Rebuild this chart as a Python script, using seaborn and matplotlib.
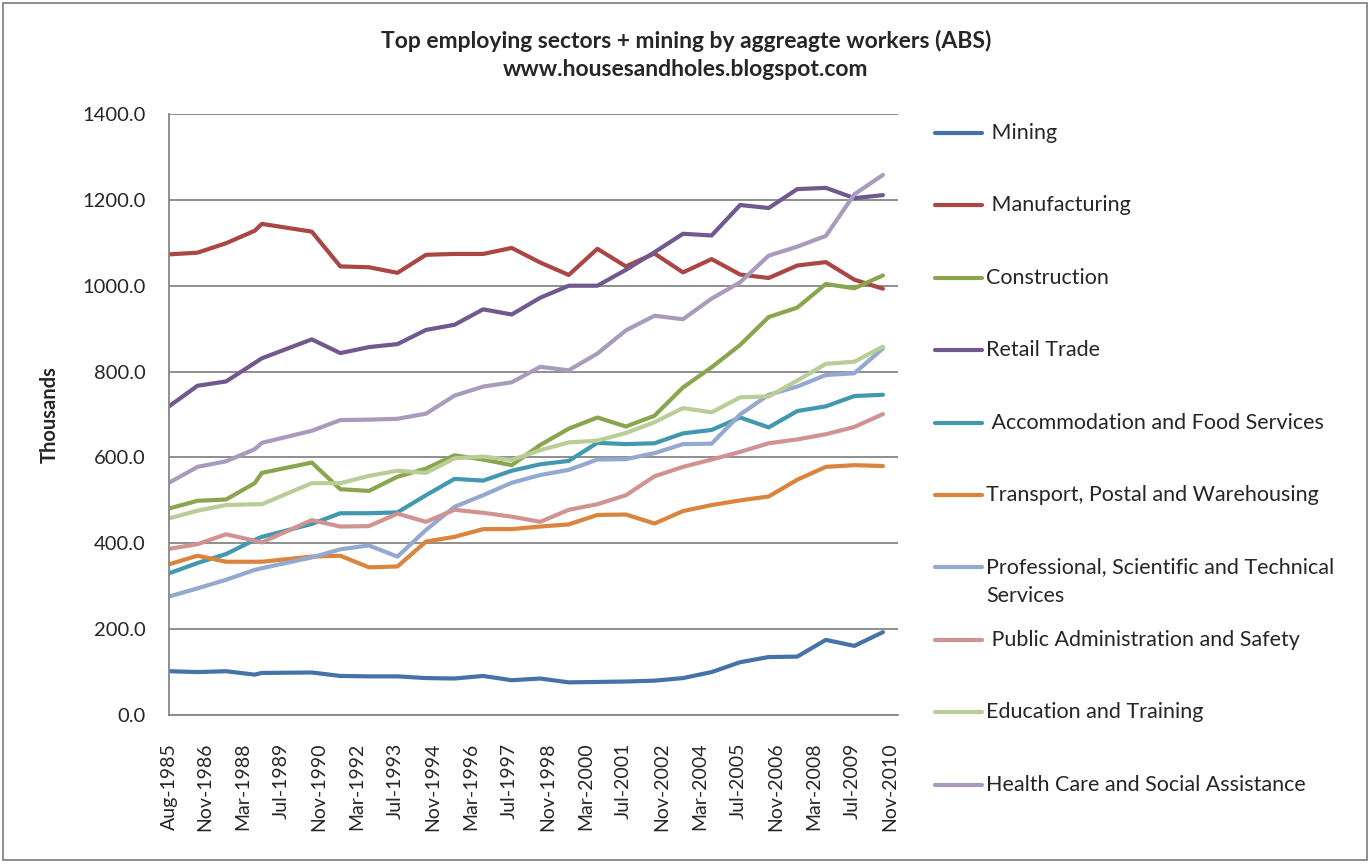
import matplotlib
matplotlib.use("Agg")
import matplotlib.pyplot as plt
from matplotlib.lines import Line2D
from matplotlib.patches import Rectangle
import seaborn as sns
import pandas as pd

# survey dates (one per point)
dates = ["Aug-1985", "Aug-1986", "Aug-1987", "Aug-1988", "Nov-1988",
         "Aug-1990", "Aug-1991", "Aug-1992", "Aug-1993", "Aug-1994",
         "Aug-1995", "Aug-1996", "Aug-1997", "Aug-1998", "Aug-1999",
         "Aug-2000", "Aug-2001", "Aug-2002", "Aug-2003", "Aug-2004",
         "Aug-2005", "Aug-2006", "Aug-2007", "Aug-2008", "Aug-2009",
         "Aug-2010"]

mining = [102, 100, 102, 94, 98, 99, 91, 90, 90, 86, 85, 91, 81, 85, 76,
          77, 78, 80, 86, 100, 123, 135, 136, 175, 161, 193]
manufacturing = [1073, 1077, 1099, 1128, 1144, 1126, 1045, 1043, 1030, 1072,
                 1074, 1074, 1088, 1054, 1025, 1086, 1045, 1075, 1031, 1062,
                 1026, 1018, 1047, 1055, 1014, 993]
construction = [481, 499, 502, 540, 564, 588, 526, 522, 555, 574, 605, 595,
                582, 629, 667, 693, 672, 697, 763, 810, 862, 927, 949, 1004,
                994, 1024]
retail = [719, 767, 777, 820, 831, 875, 843, 857, 864, 897, 909, 945, 933,
          972, 1000, 1000, 1037, 1078, 1121, 1117, 1188, 1181, 1225, 1228,
          1204, 1211]
accommodation = [330, 354, 375, 408, 415, 445, 470, 470, 472, 512, 550, 546,
                 569, 584, 592, 634, 631, 633, 656, 664, 693, 670, 708, 719,
                 743, 746]
transport = [351, 371, 357, 357, 357, 369, 371, 344, 346, 404, 415, 433, 433,
             439, 444, 466, 467, 446, 475, 489, 500, 509, 548, 578, 582, 580]
professional = [276, 295, 315, 338, 342, 367, 386, 395, 369, 431, 485, 512,
                541, 559, 571, 595, 596, 610, 631, 632, 700, 746, 765, 792,
                796, 854]
public_admin = [387, 398, 421, 406, 402, 454, 439, 440, 469, 450, 478, 471,
                462, 450, 478, 491, 512, 556, 578, 595, 613, 633, 642, 654,
                671, 701]
education = [458, 476, 489, 491, 491, 540, 540, 557, 569, 564, 598, 602, 594,
             617, 635, 639, 657, 682, 715, 705, 740, 742, 779, 818, 823, 858]
health = [541, 578, 591, 619, 634, 662, 687, 688, 690, 702, 744, 765, 775,
          811, 803, 842, 896, 930, 922, 970, 1008, 1070, 1091, 1116, 1213, 1258]

sectors = [" Mining", " Manufacturing", "Construction", "Retail Trade",
           " Accommodation and Food Services",
           "Transport, Postal and Warehousing",
           "Professional, Scientific and Technical\nServices",
           " Public Administration and Safety", "Education and Training",
           "Health Care and Social Assistance"]
series = [mining, manufacturing, construction, retail, accommodation,
          transport, professional, public_admin, education, health]
colors = ["#4572A7", "#AA4643", "#89A54E", "#71588F", "#4198AF",
          "#DB843D", "#93A9CF", "#D19392", "#B9CD96", "#A99BBD"]

tick_labels = ["Aug-1985", "Nov-1986", "Mar-1988", "Jul-1989", "Nov-1990",
               "Mar-1992", "Jul-1993", "Nov-1994", "Mar-1996", "Jul-1997",
               "Nov-1998", "Mar-2000", "Jul-2001", "Nov-2002", "Mar-2004",
               "Jul-2005", "Nov-2006", "Mar-2008", "Jul-2009", "Nov-2010"]

rows = []
for name, vals in zip(sectors, series):
    for d, v in zip(dates, vals):
        rows.append({"date": pd.to_datetime(d, format="%b-%Y"), "sector": name, "value": v})
df = pd.DataFrame(rows)

sns.set_style("white")
plt.rcParams['font.family'] = ['Lato', 'DejaVu Sans']

W, H = 1372, 864
fig = plt.figure(figsize=(W / 100, H / 100), dpi=100)
ax = fig.add_axes([169 / W, 1 - 715 / H, (898 - 169) / W, (715 - 114) / H])

sns.lineplot(data=df, x="date", y="value", hue="sector", palette=colors,
             hue_order=sectors, linewidth=3, legend=False, ax=ax)

ax.set_ylim(0, 1400)
ax.set_yticks(range(0, 1401, 200))
ax.set_yticklabels([f"{v:.1f}" for v in range(0, 1401, 200)], fontsize=14.5)
ax.set_xlim(pd.Timestamp("1985-08-01"), pd.Timestamp("2011-02-10"))
ticks = [pd.to_datetime(t, format="%b-%Y") for t in tick_labels]
ax.set_xticks(ticks)
ax.set_xticklabels(tick_labels, rotation=90, fontsize=14)
ax.tick_params(axis="y", length=0, pad=17)
ax.tick_params(axis="x", length=0, pad=20)
ax.set_xlabel("")
ax.set_ylabel("Thousands", fontsize=14.5, fontweight="bold", labelpad=16)
ax.grid(axis="y", color="#868686", linewidth=1.3)
ax.grid(axis="x", visible=False)
for s in ["top", "right"]:
    ax.spines[s].set_visible(False)
for s in ["left", "bottom"]:
    ax.spines[s].set_color("#868686")
    ax.spines[s].set_linewidth(1.3)

fig.text(686 / W, 1 - 41 / H, "Top employing sectors + mining by aggreagte workers (ABS)",
         ha="center", va="center", fontsize=16.5, fontweight="bold")
fig.text(686 / W, 1 - 70 / H, "www.housesandholes.blogspot.com",
         ha="center", va="center", fontsize=16.5, fontweight="bold")

# legend drawn by hand to match the evenly spaced entries
for i, (name, c) in enumerate(zip(sectors, colors)):
    y = 133 + 72.4 * i
    fig.add_artist(Line2D([935 / W, 982 / W], [1 - y / H, 1 - y / H],
                          color=c, linewidth=3, solid_capstyle="round"))
    for k, line in enumerate(name.split("\n")):
        fig.text(986 / W, 1 - (y + 29 * k) / H, line, ha="left", va="center",
                 fontsize=15.5)

fig.add_artist(Rectangle((3 / W, 4 / H), 1364 / W, 857 / H, fill=False,
                         edgecolor="#868686", linewidth=1.3))

fig.savefig("out.png", dpi=100)
